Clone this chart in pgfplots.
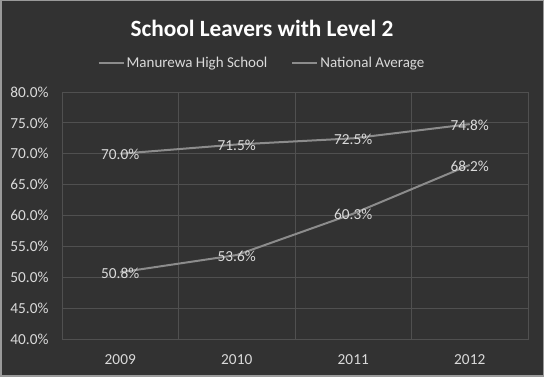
\documentclass[border=0pt]{standalone}
\usepackage{pgfplots}
\pgfplotsset{compat=1.18}
\usepackage{fontspec}
\setmainfont{Carlito}
\definecolor{bg}{HTML}{323232}
\definecolor{framec}{HTML}{9A9A9A}
\definecolor{gridc}{HTML}{505050}
\definecolor{linec}{HTML}{8C8C8C}
\definecolor{labelc}{HTML}{DADADA}
\begin{document}
\begin{tikzpicture}[x=1pt,y=1pt]
\fill[bg] (0,0) rectangle (544,377);
\draw[framec, line width=1.5pt] (0.75,0.75) rectangle (543.25,376.25);
\begin{axis}[
  at={(62pt,38pt)}, anchor=south west,
  width=466pt, height=247pt, scale only axis,
  xmin=-0.5, xmax=3.5, ymin=40, ymax=80,
  xtick={0,1,2,3}, xticklabels={2009,2010,2011,2012},
  minor xtick={-0.5,0.5,1.5,2.5,3.5},
  ytick={40,45,...,80},
  yticklabel={\pgfmathprintnumber[fixed,fixed zerofill,precision=1]{\tick}\%},
  /pgf/number format/assume math mode=true,
  xminorgrids, ymajorgrids,
  grid style={draw=gridc, line width=0.8pt},
  minor grid style={draw=gridc, line width=0.8pt},
  major tick length=0pt, minor tick length=0pt,
  axis line style={draw=gridc, line width=0.8pt},
  tick label style={font=\fontsize{15.3}{17}\selectfont, text=labelc},
  yticklabel style={xshift=-10pt},
  xticklabel style={yshift=-12pt},
  title={School Leavers with Level 2},
  title style={at={(0.5,1)}, anchor=center, xshift=-33pt, yshift=58pt, font=\bfseries\fontsize{23.3}{26}\selectfont, text=white},
  legend style={at={(0.5,1)}, anchor=center, xshift=-33pt, yshift=29pt, draw=none, fill=none,
    font=\fontsize{15}{17}\selectfont, text=labelc, legend columns=2,
    /tikz/every even column/.append style={column sep=22pt}},
  legend image code/.code={\draw[#1] (0pt,0pt) -- (25pt,0pt);},
  nodes near coords={\pgfmathprintnumber[fixed,fixed zerofill,precision=1]{\pgfplotspointmeta}\%},
  every node near coord/.append style={anchor=center, yshift=-1pt, font=\fontsize{15.3}{17}\selectfont, text=labelc},
]
\addplot[linec, line width=2pt, mark=none] coordinates {(0,50.8) (1,53.6) (2,60.3) (3,68.2)};
\addlegendentry{Manurewa High School}
\addplot[linec, line width=2pt, mark=none] coordinates {(0,70.0) (1,71.5) (2,72.5) (3,74.8)};
\addlegendentry{National Average}
\end{axis}
\end{tikzpicture}
\end{document}
